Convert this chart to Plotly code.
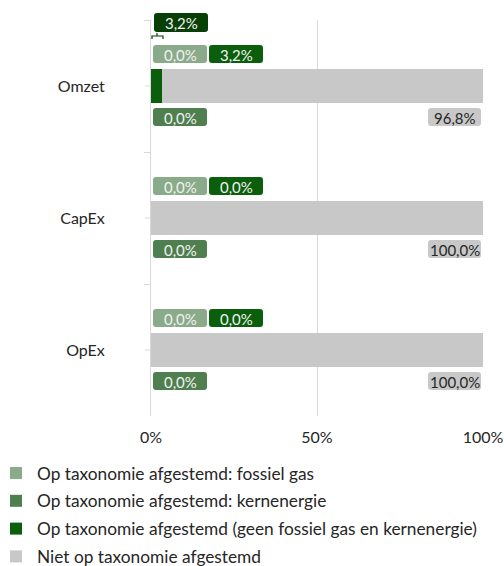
import plotly.graph_objects as go

categories = ["Omzet", "CapEx", "OpEx"]
series_names = [
    "Op taxonomie afgestemd: fossiel gas",
    "Op taxonomie afgestemd: kernenergie",
    "Op taxonomie afgestemd (geen fossiel gas en kernenergie)",
    "Niet op taxonomie afgestemd",
]
fossiel_gas = [0.0, 0.0, 0.0]
kernenergie = [0.0, 0.0, 0.0]
overig_afgestemd = [3.2, 0.0, 0.0]
niet_afgestemd = [96.8, 100.0, 100.0]
totaal_afgestemd = [3.2, None, None]  # extra callout label (Omzet only)
x_ticks = [0, 50, 100]
x_tick_labels = ["0%", "50%", "100%"]

colors = ["#8aab8a", "#4f7f4f", "#0b5e0b", "#c8c8c8"]
top_label_color = "#073f07"
FONT = "Lato"

fig = go.Figure()
all_series = [fossiel_gas, kernenergie, overig_afgestemd, niet_afgestemd]
for name, vals, col in zip(series_names, all_series, colors):
    fig.add_trace(go.Bar(
        y=categories, x=vals, name=name, orientation="h",
        marker=dict(color=col, line=dict(width=0)),
        width=0.26, showlegend=False, hoverinfo="skip",
    ))

def fmt(v):
    return ("%.1f" % v).replace(".", ",") + "%"

def rrect(x0, y0, x1, y1, r=3):
    return (f"M{x0+r},{y0} L{x1-r},{y0} Q{x1},{y0} {x1},{y0+r} "
            f"L{x1},{y1-r} Q{x1},{y1} {x1-r},{y1} L{x0+r},{y1} "
            f"Q{x0},{y1} {x0},{y1-r} L{x0},{y0+r} Q{x0},{y0} {x0+r},{y0} Z")

def cat_paper_y(i):
    # centre of category band i on the reversed category axis, in paper units
    return 1 - (i + 0.5) / len(categories)

shapes = []
annotations = []

def add_label(i, anchor_x, v, box, fill, txtcol):
    x0, y0, x1, y1 = box
    # y in paper units so the callouts are not clipped by the plot area
    shapes.append(dict(type="path", xref="x", yref="paper", xsizemode="pixel",
                       ysizemode="pixel", xanchor=anchor_x, yanchor=cat_paper_y(i),
                       path=rrect(x0, y0, x1, y1), fillcolor=fill,
                       line=dict(width=0), layer="above"))
    annotations.append(dict(x=anchor_x, y=categories[i], xref="x", yref="y",
                            xshift=(x0 + x1) / 2, yshift=(y0 + y1) / 2 - 0.5,
                            text=fmt(v), showarrow=False,
                            font=dict(family=FONT, size=15, color=txtcol)))

# label placements (pixel offsets relative to anchor value / category)
box_fossiel = (2, 23, 56, 41)
box_overig = (58, 23, 112, 41)
box_kern = (2, -40, 56, -22)
box_niet = (-55, -40, -2, -22)
box_totaal = (3, 54, 57, 73)

for i, cat in enumerate(categories):
    add_label(i, 0, fossiel_gas[i], box_fossiel, colors[0], "#f2f2f2")
    add_label(i, 0, overig_afgestemd[i], box_overig, colors[2], "#f2f2f2")
    add_label(i, 0, kernenergie[i], box_kern, colors[1], "#f2f2f2")
    add_label(i, 100, niet_afgestemd[i], box_niet, colors[3], "#262626")
    if totaal_afgestemd[i] is not None:
        add_label(i, 0, totaal_afgestemd[i], box_totaal, top_label_color, "#f2f2f2")
        # leader bracket
        shapes.append(dict(type="path", xref="x", yref="y", xsizemode="pixel",
                           ysizemode="pixel", xanchor=0, yanchor=cat,
                           path="M1,47 L1,50 L12,50 L12,47 M6,50 L6,53",
                           line=dict(color=top_label_color, width=1.2)))
    # center tick on the category axis
    shapes.append(dict(type="line", xref="paper", yref="y", xsizemode="pixel",
                       xanchor=0, x0=-6, x1=0, y0=cat, y1=cat,
                       line=dict(color="#d9d9d9", width=1)))

# manual legend
for k, (name, col) in enumerate(zip(series_names, colors)):
    cy = -57 - 27.8 * k
    shapes.append(dict(type="rect", xref="paper", yref="paper",
                       xsizemode="pixel", ysizemode="pixel", xanchor=0, yanchor=0,
                       x0=-141, x1=-129, y0=cy - 6, y1=cy + 6,
                       fillcolor=col, line=dict(width=0)))
    annotations.append(dict(x=0, y=0, xref="paper", yref="paper",
                            xshift=-116, yshift=cy, xanchor="left", yanchor="middle",
                            text=name, showarrow=False,
                            font=dict(family=FONT, size=17.3, color="#262626")))

fig.update_layout(
    barmode="stack",
    width=504, height=566,
    margin=dict(l=151, r=21, t=20, b=150, autoexpand=False),
    paper_bgcolor="white", plot_bgcolor="white",
    font=dict(family=FONT, size=16, color="#262626"),
    shapes=shapes, annotations=annotations,
    xaxis=dict(range=[0, 100], tickvals=x_ticks, ticktext=x_tick_labels,
               showgrid=True, gridcolor="#d9d9d9", gridwidth=1,
               zeroline=False, showline=False, ticks="", automargin=False,
               ticklabelstandoff=10, fixedrange=True),
    yaxis=dict(categoryorder="array", categoryarray=categories,
               autorange="reversed", showgrid=False, zeroline=False,
               showline=True, linecolor="#d9d9d9", linewidth=1,
               ticks="outside", tickson="boundaries", ticklen=6,
               tickcolor="#d9d9d9", ticklabelstandoff=42, automargin=False,
               fixedrange=True),
)

fig.write_html(
    "out.html",
    config={"displayModeBar": False},
    post_script=("document.documentElement.style.overflow='hidden';"
                 "document.body.style.margin='0';"
                 "document.body.style.overflow='hidden';"),
)
